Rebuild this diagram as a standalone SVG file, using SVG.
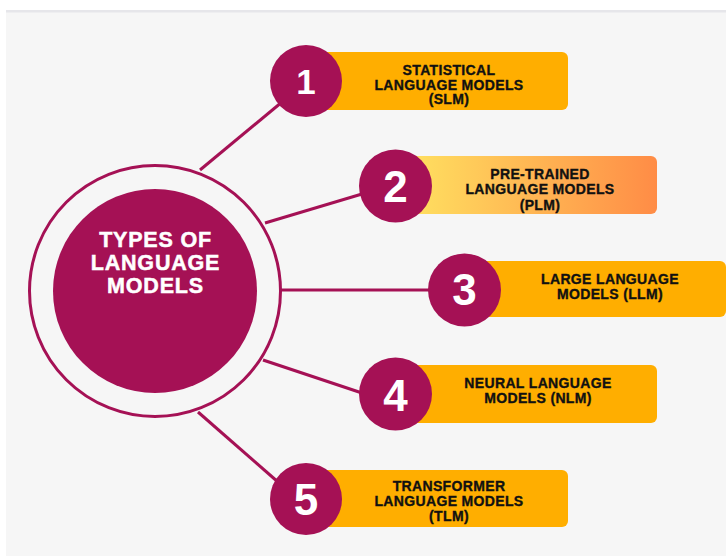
<svg xmlns="http://www.w3.org/2000/svg" width="726" height="556" viewBox="0 0 726 556">
<defs>
<linearGradient id="g2" x1="410" y1="0" x2="657" y2="0" gradientUnits="userSpaceOnUse">
<stop offset="0" stop-color="#ffe060"/>
<stop offset="1" stop-color="#ff8c46"/>
</linearGradient>
<style>
.num{fill:#a51155}
.conn{stroke:#a51155;stroke-width:3;fill:none}
.box{fill:#ffae00}
.lbl{font-family:"Liberation Sans",Arial,sans-serif;font-weight:bold;font-size:14px;letter-spacing:0.35px;fill:#111111;stroke:#111111;stroke-width:0.35;text-anchor:middle}
.dig{font-family:"Liberation Sans",Arial,sans-serif;font-weight:bold;font-size:44px;fill:#ffffff;text-anchor:middle}
.title{font-family:"Liberation Sans",Arial,sans-serif;font-weight:bold;font-size:21.5px;letter-spacing:0.8px;fill:#ffffff;stroke:#ffffff;stroke-width:0.5;text-anchor:middle}
</style>
</defs>
<rect x="0" y="0" width="726" height="556" fill="#ffffff"/>
<rect x="6" y="10" width="720" height="546" fill="#f6f6f6"/>
<rect x="6" y="10" width="720" height="2.5" fill="#e6e6ea"/>
<g id="connectors">
<line class="conn" x1="200" y1="170" x2="282" y2="102"/>
<line class="conn" x1="265" y1="223" x2="362" y2="194"/>
<line class="conn" x1="281" y1="290" x2="432" y2="290"/>
<line class="conn" x1="263" y1="360" x2="362" y2="393"/>
<line class="conn" x1="198" y1="412" x2="278" y2="482"/>
</g>
<g id="center">
<circle cx="155" cy="291" r="125.5" fill="none" stroke="#a51155" stroke-width="3"/>
<circle cx="155" cy="291" r="102" fill="#a51155"/>
<text class="title" x="155.5" y="247">TYPES OF</text>
<text class="title" x="155.5" y="270">LANGUAGE</text>
<text class="title" x="155.5" y="293">MODELS</text>
</g>
<g id="item1">
<rect class="box" x="320" y="52" width="248" height="58" rx="6"/>
<circle class="num" cx="306" cy="81" r="36"/>
<text class="dig" x="306" y="93.5" style="font-size:35px">1</text>
<text class="lbl" x="449" y="74.5">STATISTICAL</text>
<text class="lbl" x="449" y="89.5">LANGUAGE MODELS</text>
<text class="lbl" x="449" y="104">(SLM)</text>
</g>
<g id="item2">
<rect x="410" y="156" width="247" height="58" rx="6" fill="url(#g2)"/>
<circle class="num" cx="395.5" cy="186" r="36.5"/>
<text class="dig" x="395.5" y="202">2</text>
<text class="lbl" x="540" y="178.5">PRE-TRAINED</text>
<text class="lbl" x="540" y="194">LANGUAGE MODELS</text>
<text class="lbl" x="540" y="209.5">(PLM)</text>
</g>
<g id="item3">
<rect class="box" x="480" y="261" width="246" height="56" rx="6"/>
<circle class="num" cx="464.5" cy="290" r="36.5"/>
<text class="dig" x="464.5" y="305">3</text>
<text class="lbl" x="610" y="284">LARGE LANGUAGE</text>
<text class="lbl" x="610" y="299">MODELS (LLM)</text>
</g>
<g id="item4">
<rect class="box" x="410" y="365" width="247" height="58" rx="6"/>
<circle class="num" cx="395.5" cy="394" r="36.5"/>
<text class="dig" x="395.5" y="410.5">4</text>
<text class="lbl" x="538" y="388">NEURAL LANGUAGE</text>
<text class="lbl" x="538" y="403">MODELS (NLM)</text>
</g>
<g id="item5">
<rect class="box" x="320" y="470" width="248" height="57" rx="6"/>
<circle class="num" cx="306" cy="499" r="36"/>
<text class="dig" x="306" y="515">5</text>
<text class="lbl" x="449" y="491">TRANSFORMER</text>
<text class="lbl" x="449" y="506">LANGUAGE MODELS</text>
<text class="lbl" x="449" y="521">(TLM)</text>
</g>
</svg>
